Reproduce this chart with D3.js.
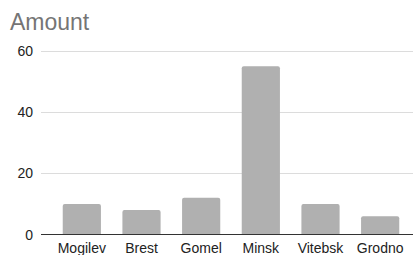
<!DOCTYPE html>
<html>
<head>
<meta charset="utf-8">
<script src="https://cdn.jsdelivr.net/npm/d3@7"></script>
<style>
  body { margin: 0; background: #fff; }
  svg { font-family: Arial, "Liberation Sans", sans-serif; }
</style>
</head>
<body>
<div id="chart"></div>
<script>
// data
const cities = ["Mogilev", "Brest", "Gomel", "Minsk", "Vitebsk", "Grodno"];
const amounts = [10, 8, 12, 55, 10, 6];
const yTicks = [0, 20, 40, 60];

const width = 414, height = 255;
const margin = { top: 51, right: 1, bottom: 21, left: 41 };

const svg = d3.select("#chart")
    .append("svg")
    .attr("width", width)
    .attr("height", height);

// title
svg.append("text")
    .attr("x", 10)
    .attr("y", 30)
    .attr("fill", "#757575")
    .style("font-size", "23px")
    .text("Amount");

const x = d3.scaleBand()
    .domain(cities)
    .range([52, 410])
    .paddingInner(0.36)
    .paddingOuter(0.18);

const y = d3.scaleLinear()
    .domain([0, 60])
    .range([234.5, 51]);

// gridlines
svg.append("g")
    .selectAll("line")
    .data(yTicks.filter(d => d > 0))
    .enter()
    .append("line")
    .attr("x1", margin.left)
    .attr("x2", width - margin.right)
    .attr("y1", d => Math.round(y(d)) + 0.5)
    .attr("y2", d => Math.round(y(d)) + 0.5)
    .attr("stroke", "#dcdcdc")
    .attr("stroke-width", 1);

// y tick labels
svg.append("g")
    .selectAll("text")
    .data(yTicks)
    .enter()
    .append("text")
    .attr("x", 33)
    .attr("y", d => y(d) + 5)
    .attr("text-anchor", "end")
    .attr("fill", "#222")
    .style("font-size", "14px")
    .text(d => d);

// bars
svg.append("g")
    .selectAll("path")
    .data(amounts)
    .enter()
    .append("path")
    .attr("fill", "#b0b0b0")
    .attr("d", (d, i) => {
        const x0 = x(cities[i]), w = x.bandwidth();
        const top = y(d), bot = y(0), r = 2;
        return `M${x0},${bot}V${top + r}Q${x0},${top} ${x0 + r},${top}` +
            `H${x0 + w - r}Q${x0 + w},${top} ${x0 + w},${top + r}V${bot}Z`;
    });

// baseline
svg.append("line")
    .attr("x1", margin.left)
    .attr("x2", width - margin.right)
    .attr("y1", y(0))
    .attr("y2", y(0))
    .attr("stroke", "#333")
    .attr("stroke-width", 1.2);

// x labels
svg.append("g")
    .selectAll("text")
    .data(cities)
    .enter()
    .append("text")
    .attr("x", d => x(d) + x.bandwidth() / 2)
    .attr("y", 253)
    .attr("text-anchor", "middle")
    .attr("fill", "#222")
    .style("font-size", "14px")
    .text(d => d);
</script>
</body>
</html>
